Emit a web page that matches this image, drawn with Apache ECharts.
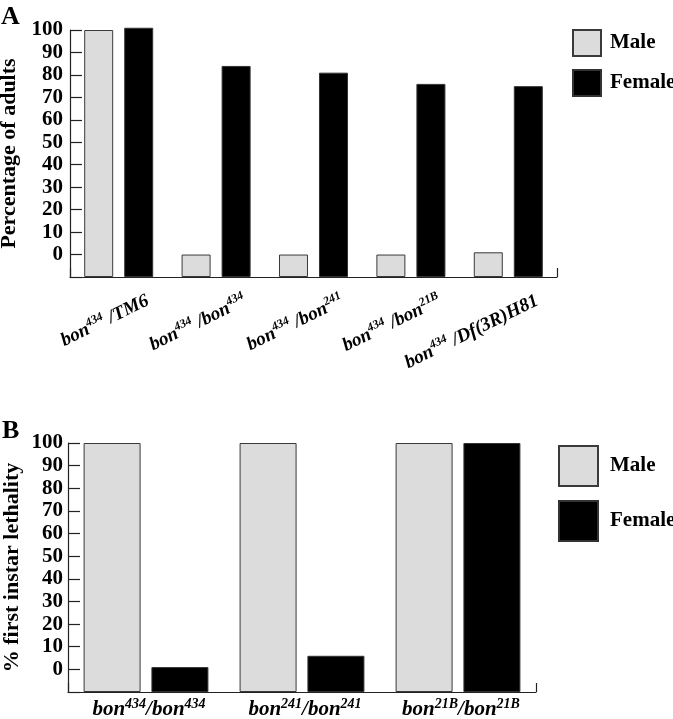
<!DOCTYPE html>
<html><head><meta charset="utf-8">
<script src="https://cdn.jsdelivr.net/npm/echarts@6/dist/echarts.min.js"></script>
<style>html,body{margin:0;padding:0;background:#fff}#c{width:673px;height:719px}</style>
</head><body><div id="c"></div>
<script>
// Panel A
const categoriesA = [
  '{b|bon}{s|434}{b| /TM6}',
  '{b|bon}{s|434}{b| /bon}{s|434}',
  '{b|bon}{s|434}{b| /bon}{s|241}',
  '{b|bon}{s|434}{b| /bon}{s|21B}',
  '{b|bon}{s|434}{b| /Df(3R)H81}'
];
const maleA = [100, 0, 0, 0, 1];
const femaleA = [101, 84, 81, 76, 75];
// Panel B
const categoriesB = [
  '{b|bon}{s|434}{b|/bon}{s|434}',
  '{b|bon}{s|241}{b|/bon}{s|241}',
  '{b|bon}{s|21B}{b|/bon}{s|21B}'
];
const maleB = [100, 100, 100];
const femaleB = [1, 6, 100];
const seriesNames = ['Male', 'Female'];
const yMin = -10, yMax = 100, yStep = 10;

const SERIF = "'Liberation Serif', 'Times New Roman', serif";
const AX = '#222';
const maleStyle = { color: '#dcdcdc', borderColor: '#3a3a3a', borderWidth: 1 };
const femaleStyle = { color: '#000', borderColor: '#333', borderWidth: 1 };

function richFor(base, sup) {
  return {
    b: { fontFamily: SERIF, fontStyle: 'italic', fontWeight: 'bold', fontSize: base, color: '#000', lineHeight: base + 2, verticalAlign: 'bottom' },
    s: { fontFamily: SERIF, fontStyle: 'italic', fontWeight: 'bold', fontSize: sup, color: '#000', lineHeight: sup - 1, verticalAlign: 'top' }
  };
}
function yAxisCfg(grid, name, gap, margin) {
  return {
    type: 'value', gridIndex: grid, min: yMin, max: yMax, interval: yStep, startValue: yMin,
    name: name, nameLocation: 'middle', nameGap: gap, nameMoveOverlap: false,
    nameTextStyle: { fontFamily: SERIF, fontWeight: 'bold', fontSize: 22, color: '#000' },
    axisLine: { show: true, onZero: false, lineStyle: { color: AX, width: 1.2 } },
    axisTick: { show: true, inside: true, length: 12, lineStyle: { color: AX, width: 1.2 } },
    splitLine: { show: false },
    axisLabel: { margin: margin, fontFamily: SERIF, fontWeight: 'bold', fontSize: 21, color: '#000',
      formatter: v => (v < 0 ? '' : String(v)) }
  };
}
function xAxisCfg(grid, data, label) {
  return {
    type: 'category', gridIndex: grid, data: data, boundaryGap: true,
    axisLine: { show: true, onZero: false, lineStyle: { color: AX, width: 1.2 } },
    axisTick: { show: true, inside: true, length: 9, interval: i => i === 0, lineStyle: { color: AX, width: 1.2 } },
    axisLabel: Object.assign({ interval: 0 }, label)
  };
}
function legendCfg(left, top, w, h, gap, pad) {
  return {
    data: seriesNames, orient: 'vertical', left: left, top: top, icon: 'rect',
    itemWidth: w, itemHeight: h, itemGap: gap, selectedMode: false, padding: 0,
    textStyle: { fontFamily: SERIF, fontWeight: 'bold', fontSize: 21, color: '#000', padding: [0, 0, 0, pad] }
  };
}

const chart = echarts.init(document.getElementById('c'), null, { renderer: 'canvas' });
chart.setOption({
  animation: false,
  backgroundColor: '#fff',
  title: [
    { text: 'A', left: 1, top: 4, padding: 0, textStyle: { fontFamily: SERIF, fontWeight: 'bold', fontSize: 26, color: '#000' } },
    { text: 'B', left: 2, top: 418, padding: 0, textStyle: { fontFamily: SERIF, fontWeight: 'bold', fontSize: 26, color: '#000' } }
  ],
  legend: [
    legendCfg(572, 29, 28, 26, 12, 4),
    legendCfg(558, 445, 39, 40, 13, 7)
  ],
  grid: [
    { left: 70, right: 116, top: 30, bottom: 442, containLabel: false, outerBoundsMode: 'none' },
    { left: 68, right: 137, top: 443, bottom: 27, containLabel: false, outerBoundsMode: 'none' }
  ],
  xAxis: [
    xAxisCfg(0, categoriesA, { rotate: 26, margin: 36, padding: [0, -32, 0, 0], rich: richFor(19, 12) }),
    xAxisCfg(1, categoriesB, { margin: 5, padding: [0, -6, 0, 0], rich: richFor(21, 14) })
  ],
  yAxis: [
    yAxisCfg(0, 'Percentage of adults', 50, 7),
    yAxisCfg(1, '% first instar lethality', 45, 5)
  ],
  series: [
    { name: 'Male', type: 'bar', xAxisIndex: 0, yAxisIndex: 0, data: maleA, barWidth: 29, barGap: '38%', clip: false, itemStyle: maleStyle },
    { name: 'Female', type: 'bar', xAxisIndex: 0, yAxisIndex: 0, data: femaleA, barWidth: 29, barGap: '38%', clip: false, itemStyle: femaleStyle },
    { name: 'Male', type: 'bar', xAxisIndex: 1, yAxisIndex: 1, data: maleB, barWidth: 57, barGap: '19%', clip: false, itemStyle: maleStyle },
    { name: 'Female', type: 'bar', xAxisIndex: 1, yAxisIndex: 1, data: femaleB, barWidth: 57, barGap: '19%', clip: false, itemStyle: femaleStyle }
  ]
});
</script></body></html>
